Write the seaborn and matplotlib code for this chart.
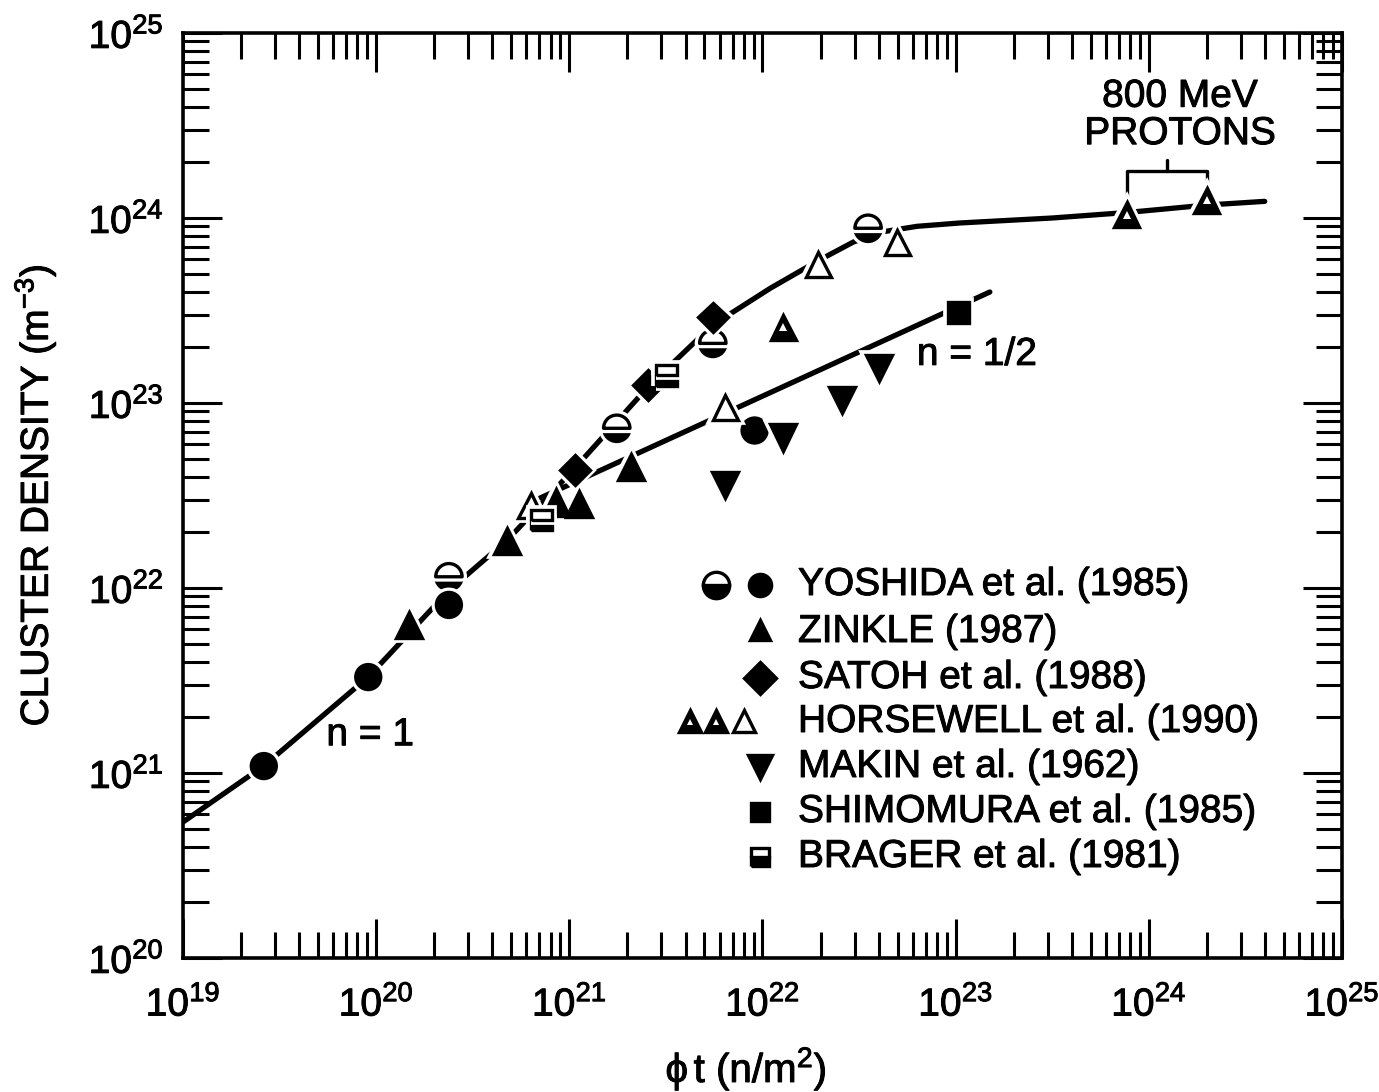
import numpy as np
import pandas as pd
import matplotlib
matplotlib.use("Agg")
import matplotlib.pyplot as plt
import matplotlib.patheffects as pe
from matplotlib.ticker import LogLocator, NullFormatter, FixedLocator
import seaborn as sns

# ---------------- data ----------------
yoshida_half_x = [2.38e20, 1.76e21, 5.53e21, 3.52e22]
yoshida_half_y = [1.15e22, 7.3e22, 2.1e23, 8.8e23]
yoshida_full_x = [2.62e19, 9.1e19, 2.38e20, 9.1e21]
yoshida_full_y = [1.09e21, 3.3e21, 8.1e21, 7.1e22]
zinkle_x = [1.48e20, 4.75e20, 8.5e20, 1.12e21, 2.09e21]
zinkle_y = [6.3e21, 1.8e22, 2.9e22, 2.85e22, 4.5e22]
satoh_x = [1.07e21, 2.55e21, 5.53e21]
satoh_y = [4.35e22, 1.25e23, 2.9e23]
horsewell_open_x = [6.3e20, 6.4e21, 1.94e22, 4.97e22]
horsewell_open_y = [2.8e22, 9.4e22, 5.6e23, 7.4e23]
horsewell_part_x = [1.28e22, 7.7e23, 2.0e24]
horsewell_part_y = [2.57e23, 1.04e24, 1.25e24]
makin_x = [6.4e21, 1.28e22, 2.58e22, 4.0e22]
makin_y = [3.6e22, 6.5e22, 1.04e23, 1.55e23]
shimomura_x = [1.03e23]
shimomura_y = [3.1e23]
brager_x = [7.2e20, 3.2e21]
brager_y = [2.33e22, 1.41e23]

# fitted curves (log10 values)
fit1_logx = [19.0, 19.42, 19.96, 20.38, 20.68, 21.03, 21.41, 21.74, 22.04, 22.29, 22.47, 22.62, 22.8, 23.02, 23.5, 23.89, 24.30, 24.60]
fit1_logy = [20.735, 21.04, 21.52, 21.99, 22.26, 22.65, 23.09, 23.42, 23.62, 23.77, 23.87, 23.925, 23.955, 23.973, 24.0, 24.03, 24.07, 24.09]
fit2_logx = [20.848, 23.177]
fit2_logy = [22.486, 23.60]

legend_labels = ["YOSHIDA et al. (1985)", "ZINKLE (1987)", "SATOH et al. (1988)",
                 "HORSEWELL et al. (1990)", "MAKIN et al. (1962)",
                 "SHIMOMURA et al. (1985)", "BRAGER et al. (1981)"]
x_ticks = [1e19, 1e20, 1e21, 1e22, 1e23, 1e24, 1e25]
y_ticks = [1e20, 1e21, 1e22, 1e23, 1e24, 1e25]

# ---------------- style ----------------
sns.set_theme(style="ticks")
FONT = ["Liberation Sans", "DejaVu Sans"]
plt.rcParams["font.family"] = FONT
plt.rcParams["mathtext.fontset"] = "custom"
plt.rcParams["mathtext.rm"] = "Liberation Sans"
plt.rcParams["mathtext.it"] = "Liberation Sans"
plt.rcParams["mathtext.bf"] = "Liberation Sans:bold"
for k in ["text.color", "axes.labelcolor", "xtick.color", "ytick.color", "axes.edgecolor"]:
    plt.rcParams[k] = "black"

FS = 28
thick = [pe.withStroke(linewidth=0.7, foreground="black")]

W, H = 1379, 1092
fig = plt.figure(figsize=(W / 100, H / 100), dpi=100)
ax = fig.add_axes([183 / W, 1 - 958 / H, (1342 - 183) / W, (958 - 33) / H])
ax.set_xscale("log")
ax.set_yscale("log")
ax.set_xlim(1e19, 1e25)
ax.set_ylim(1e20, 1e25)

# fit lines
df1 = pd.DataFrame({"x": 10 ** np.array(fit1_logx), "y": 10 ** np.array(fit1_logy)})
df2 = pd.DataFrame({"x": 10 ** np.array(fit2_logx), "y": 10 ** np.array(fit2_logy)})
sns.lineplot(data=df1, x="x", y="y", ax=ax, color="black", linewidth=3.8, sort=False, zorder=2)
sns.lineplot(data=df2, x="x", y="y", ax=ax, color="black", linewidth=3.8, sort=False, zorder=2)

halo = [pe.Stroke(linewidth=7, foreground="white"), pe.Normal()]


def pts(x, y, marker, size, fill="full", mfc="black", z=3):
    ax.plot(x, y, linestyle="none", marker=marker, markersize=size, fillstyle=fill,
            markerfacecolor=mfc, markerfacecoloralt="white", markeredgecolor="black",
            markeredgewidth=2.4, path_effects=halo, zorder=z)


pts(yoshida_half_x, yoshida_half_y, "o", 19, fill="bottom")
pts(yoshida_full_x, yoshida_full_y, "o", 18)
pts(zinkle_x, zinkle_y, "^", 19)
pts(satoh_x, satoh_y, "D", 15)
pts(horsewell_open_x, horsewell_open_y, "^", 18, mfc="white")
pts(horsewell_part_x, horsewell_part_y, "^", 18)
ax.plot(horsewell_part_x, horsewell_part_y, linestyle="none", marker="^", markersize=6,
        markerfacecolor="white", markeredgewidth=0, zorder=4)
pts(makin_x, makin_y, "v", 19)
pts(shimomura_x, shimomura_y, "s", 15)
pts(brager_x, brager_y, "s", 15, fill="bottom")

# ---------------- axes ----------------
ax.xaxis.set_major_locator(FixedLocator(x_ticks))
ax.yaxis.set_major_locator(FixedLocator(y_ticks))
ax.xaxis.set_minor_locator(LogLocator(base=10, subs=np.arange(2, 10), numticks=100))
ax.yaxis.set_minor_locator(LogLocator(base=10, subs=np.arange(2, 10), numticks=100))
ax.xaxis.set_minor_formatter(NullFormatter())
ax.yaxis.set_minor_formatter(NullFormatter())
ax.set_xticklabels([r"$\mathregular{10^{%d}}$" % int(np.log10(v)) for v in x_ticks])
ax.set_yticklabels([r"$\mathregular{10^{%d}}$" % int(np.log10(v)) for v in y_ticks])
ax.tick_params(which="both", direction="in", top=True, right=True, width=2.2, color="black")
ax.tick_params(which="major", length=28, labelsize=FS)
ax.tick_params(axis="x", which="major", pad=20)
ax.tick_params(axis="y", which="major", pad=14)
ax.tick_params(which="minor", length=19)
for s in ax.spines.values():
    s.set_linewidth(2.6)
    s.set_color("black")

ax.set_xlabel(r"$\mathregular{\phi\,t\ (n/m^2)}$", fontsize=FS + 1)
ax.xaxis.set_label_coords((746 - 183) / (1342 - 183), -(1045 - 958) / (958 - 33))
ax.set_ylabel(r"CLUSTER DENSITY (m$\mathregular{^{-3}}$)", fontsize=FS, labelpad=22)
for t in ax.get_xticklabels() + ax.get_yticklabels() + [ax.xaxis.label, ax.yaxis.label]:
    t.set_path_effects(thick)

# ---------------- annotations ----------------
ax.text(9.3e19, 1.6e21, "n = 1", fontsize=FS, ha="center", va="center", path_effects=thick)
ax.text(6.3e22, 1.82e23, "n = 1/2", fontsize=FS, ha="left", va="center", path_effects=thick)
ax.text(1.45e24, 2.27e24, "800 MeV\nPROTONS", fontsize=FS, ha="center", va="bottom",
        linespacing=1.05, path_effects=thick)
ax.plot([7.7e23, 7.7e23, 2.0e24, 2.0e24], [1.17e24, 1.8e24, 1.8e24, 1.5e24],
        color="black", linewidth=2.4)
ax.plot([1.24e24, 1.24e24], [1.8e24, 2.06e24], color="black", linewidth=2.4)

# ---------------- legend (manual) ----------------
def fx(px):
    return (px - 183) / (1342 - 183)


def fy(py):
    return (958 - py) / (958 - 33)


rows = [585, 632, 678, 722, 767, 812, 857]
for lab, r in zip(legend_labels, rows):
    ax.text(fx(798), fy(r), lab, transform=ax.transAxes, fontsize=FS, va="center", ha="left",
            path_effects=thick)

kw = dict(transform=ax.transAxes, linestyle="none", markeredgecolor="black",
          markeredgewidth=2.4, markerfacecoloralt="white", clip_on=False)
ax.plot([fx(716)], [fy(585)], marker="o", markersize=19, fillstyle="bottom", markerfacecolor="black", **kw)
ax.plot([fx(760)], [fy(585)], marker="o", markersize=16, markerfacecolor="black", **kw)
ax.plot([fx(760)], [fy(630)], marker="^", markersize=15, markerfacecolor="black", **kw)
ax.plot([fx(760)], [fy(678)], marker="D", markersize=16, markerfacecolor="black", **kw)
for xx in (690, 716):
    ax.plot([fx(xx)], [fy(721)], marker="^", markersize=16, markerfacecolor="black", **kw)
    ax.plot([fx(xx)], [fy(722)], marker="^", markersize=5, markerfacecolor="white",
            markeredgewidth=0, transform=ax.transAxes, linestyle="none", clip_on=False)
ax.plot([fx(744)], [fy(721)], marker="^", markersize=16, markerfacecolor="white", **kw)
ax.plot([fx(760)], [fy(767)], marker="v", markersize=17, markerfacecolor="black", **kw)
ax.plot([fx(760)], [fy(812)], marker="s", markersize=13, markerfacecolor="black", **kw)
ax.plot([fx(760)], [fy(857)], marker="s", markersize=13, fillstyle="bottom", markerfacecolor="black", **kw)

fig.savefig("out.png", dpi=100, facecolor="white")
